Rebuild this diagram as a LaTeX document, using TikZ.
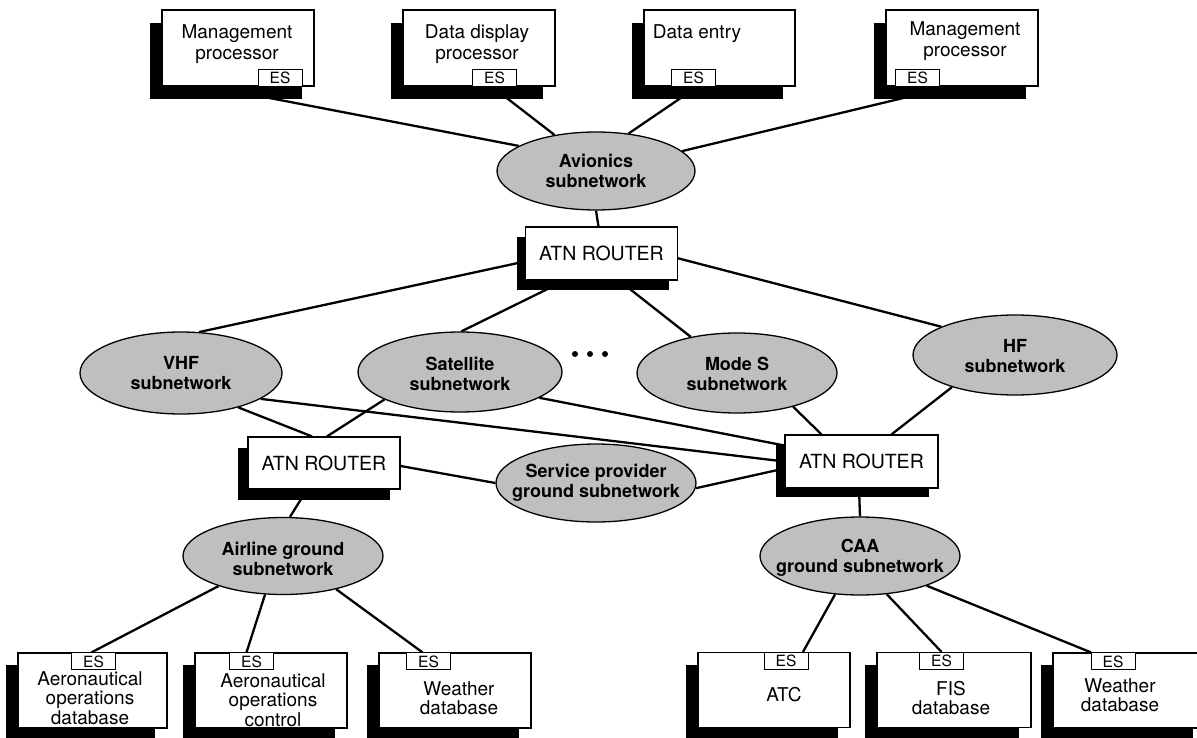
\documentclass[tikz,border=0pt]{standalone}
\usepackage{fontspec}
\setmainfont{TeX Gyre Heros}
\usetikzlibrary{shapes.geometric,shadows,backgrounds,calc}
\begin{document}
\begin{tikzpicture}[x=1pt,y=-1pt,
  box/.style={draw, line width=1.2pt, fill=white, inner sep=0pt,
    minimum width=152pt, minimum height=76pt},
  shadowA/.style={drop shadow={shadow xshift=-12pt,shadow yshift=-13pt,fill=black,opacity=1}},
  shadowB/.style={drop shadow={shadow xshift=-12pt,shadow yshift=-12pt,fill=black,opacity=1}},
  shadowR/.style={drop shadow={shadow xshift=-9pt,shadow yshift=-10pt,fill=black,opacity=1}},
  router/.style={box, minimum height=53pt, font=\fontsize{19.5}{22}\selectfont},
  estag/.style={draw, line width=1pt, fill=white, inner sep=0pt,
    minimum width=44pt, minimum height=17pt, font=\fontsize{15.5}{15.5}\selectfont},
  btext/.style={align=center, inner sep=0pt, font=\fontsize{19}{21.5}\selectfont},
  ctext/.style={align=center, inner sep=0pt, font=\fontsize{19}{19.5}\selectfont},
  subnet/.style={ellipse, draw, line width=1.3pt, fill=black!25, inner sep=0pt},
  stext/.style={align=center, inner sep=0pt, font=\bfseries\fontsize{18}{20}\selectfont},
  conn/.style={line width=2.3pt}]

\useasboundingbox (0,0) rectangle (1197,738);
\clip (0,0) rectangle (1197,738);

% on-board end systems
\node[box, shadowA] (b1) at (238,48) {};
\node[box, shadowA] (b2) at (479,48) {};
\node[box, shadowA, minimum width=151pt] (b3) at (719.5,48) {};
\node[box, shadowA] (b4) at (962,48) {};
\node[estag, anchor=south] (b1es) at ($(b1.south)+(42,0)$) {ES};
\node[estag, anchor=south] (b2es) at ($(b2.south)+(15.5,0)$) {ES};
\node[estag, anchor=south] (b3es) at ($(b3.south)+(-26,0)$) {ES};
\node[estag, anchor=south] (b4es) at ($(b4.south)+(-44.5,0)$) {ES};
\node[btext] (t1) at (237,44) {Management\\processor};
\node[btext] (t2) at (477,44) {Data display\\processor};
\node[btext] (t3) at (697,34) {Data entry};
\node[btext] (t4) at (965,41) {Management\\processor};

% subnetworks
\node[subnet, minimum width=198pt, minimum height=78pt] (avi) at (596,171) {};
\node[subnet, minimum width=202pt, minimum height=82pt] (vhf) at (181,373) {};
\node[subnet, minimum width=204pt, minimum height=80pt] (sat) at (460,372) {};
\node[subnet, minimum width=200pt, minimum height=80pt] (mode) at (737,373) {};
\node[subnet, minimum width=204pt, minimum height=80pt] (hf) at (1015,355) {};
\node[subnet, minimum width=200pt, minimum height=78pt] (svc) at (596,483) {};
\node[subnet, minimum width=200pt, minimum height=77pt] (air) at (283,556) {};
\node[subnet, minimum width=200pt, minimum height=78pt] (caa) at (860,556) {};
\node[stext] at (avi) {Avionics\\subnetwork};
\node[stext] at (vhf) {VHF\\subnetwork};
\node[stext] at ($(sat)+(0,2)$) {Satellite\\subnetwork};
\node[stext] at ($(mode)+(0,1)$) {Mode S\\subnetwork};
\node[stext] at ($(hf)+(0,1)$) {HF\\subnetwork};
\node[stext] at (svc) {Service provider\\ground subnetwork};
\node[stext] at ($(air)+(0,3)$) {Airline ground\\subnetwork};
\node[stext] at ($(caa)+(0,2)$) {CAA\\ground subnetwork};

% routers
\node[router, shadowR] (rtop) at (601.5,253.5) {ATN ROUTER};
\node[router, minimum height=52pt, drop shadow={shadow xshift=-10pt,shadow yshift=-11pt,fill=black,opacity=1}] (rl) at (324,463) {ATN ROUTER};
\node[router, minimum width=153pt, drop shadow={shadow xshift=-9pt,shadow yshift=-9pt,fill=black,opacity=1}] (rr) at (861.5,461.5) {ATN ROUTER};

% ground end systems
\node[box, shadowB, minimum width=149pt, minimum height=75pt] (d1) at (92.5,690.5) {};
\node[box, shadowB, minimum height=75pt] (d2) at (271,690.5) {};
\node[box, shadowB, minimum height=75pt] (d3) at (455,690.5) {};
\node[box, shadowB, minimum height=75pt] (d4) at (774,690) {};
\node[box, shadowB, minimum width=154pt, minimum height=75pt] (d5) at (954,690) {};
\node[box, shadowB, minimum height=75pt] (d6) at (1129,690.5) {};
\node[estag, anchor=north] (d1es) at ($(d1.north)+(1,0)$) {ES};
\node[estag, anchor=north] (d2es) at ($(d2.north)+(-19.5,0)$) {ES};
\node[estag, anchor=north] (d3es) at ($(d3.north)+(-26.5,0)$) {ES};
\node[estag, anchor=north] (d4es) at ($(d4.north)+(12,0)$) {ES};
\node[estag, anchor=north] (d5es) at ($(d5.north)+(-12.5,0)$) {ES};
\node[estag, anchor=north] (d6es) at ($(d6.north)+(-16,0)$) {ES};
\node[ctext] at (90,698) {Aeronautical\\operations\\database};
\node[ctext] at (273,700) {Aeronautical\\operations\\control};
\node[ctext] at (459,698) {Weather\\database};
\node[ctext] at (784,695) {ATC};
\node[ctext] at (951,698) {FIS\\database};
\node[ctext] at (1120,695) {Weather\\database};

% more subnetworks not shown
\fill (575,354) circle (3pt) (590,354) circle (3pt) (605,354) circle (3pt);

\begin{pgfonlayer}{background}
  \draw[conn] ($(b1.south)+(19,9)$) -- (avi.162);
  \draw[conn] ($(b2.south)+(24.6,9)$) -- (avi.139);
  \draw[conn] ($(b3.south)+(-35.2,9)$) -- (avi.49);
  \draw[conn] ($(b4.south)+(-48.7,9)$) -- (avi.13);
  \draw[conn] (avi.south) -- ($(rtop.north)+(-3,0)$);
  \draw[conn] ($(rtop.west)+(0,8)$) -- (vhf.66);
  \draw[conn] ($(rtop.south)+(-47,5)$) -- (sat.88);
  \draw[conn] ($(rtop.south)+(24,5)$) -- (mode.142);
  \draw[conn] ($(rtop.east)+(-5,3.5)$) -- (hf.159);
  \draw[conn] (vhf.-31) -- ($(rl.north)+(-12,0)$);
  \draw[conn] (sat.200) -- ($(rl.north)+(3,0)$);
  \draw[conn] (vhf.-18) -- (rr.west);
  \draw[conn] (sat.-18) -- ($(rr.west)+(0,-16)$);
  \draw[conn] (mode.-31) -- ($(rr.north)+(-40,0)$);
  \draw[conn] (hf.207) -- ($(rr.north)+(30,0)$);
  \draw[conn] ($(rl.east)+(0,3)$) -- (svc.180);
  \draw[conn] (svc.-3) -- ($(rr.west)+(0,7)$);
  \draw[conn] ($(rl.south)+(-17,0)$) -- ($(air.north)+(7,0)$);
  \draw[conn] ($(rr.south)+(-2.5,0)$) -- (caa.north);
  \draw[conn] (air.205) -- ($(d1es.north)+(-2,0)$);
  \draw[conn] (air.245) -- ($(d2es.north)+(-5,0)$);
  \draw[conn] (air.-32) -- ($(d3es.north)+(-6,0)$);
  \draw[conn] (caa.237) -- ($(d4es.north)+(17,0)$);
  \draw[conn] (caa.-55) -- (d5es.north);
  \draw[conn] (caa.-24) -- ($(d6es.north)+(-22,0)$);
\end{pgfonlayer}
\end{tikzpicture}
\end{document}
